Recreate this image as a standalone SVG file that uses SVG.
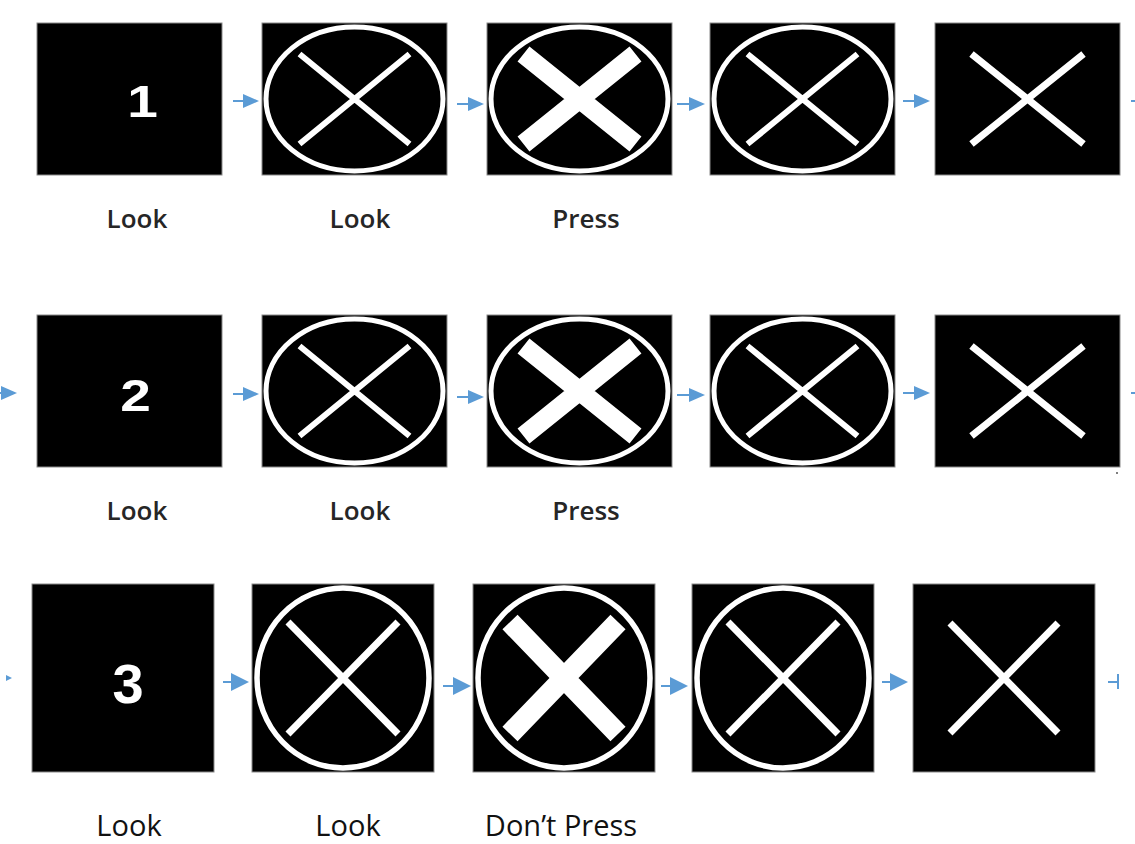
<svg xmlns="http://www.w3.org/2000/svg" width="1135" height="844" viewBox="0 0 1135 844">
  <style>
    .box { fill: #000; stroke: #8a8a8a; stroke-width: 1; }
    .ring { fill: none; stroke: #fff; stroke-width: 5; }
    .ring3 { fill: none; stroke: #fff; stroke-width: 5.5; }
    .thin { stroke: #fff; stroke-width: 6; fill: none; }
    .thin3 { stroke: #fff; stroke-width: 7; fill: none; }
    .thick { stroke: #fff; stroke-width: 19; fill: none; }
    .thick3 { stroke: #fff; stroke-width: 21; fill: none; }
    .num { fill: #fff; font-family: "Liberation Sans", Arial, sans-serif; font-weight: bold; text-anchor: middle; }
    .lbl { fill: #262626; font-family: "Open Sans", "Noto Sans", sans-serif; font-weight: 600; font-size: 26px; text-anchor: middle; }
    .lbl3 { fill: #111; font-family: "Open Sans", "Noto Sans", sans-serif; font-weight: 400; font-size: 29px; text-anchor: middle; }
    .arr { stroke: #5B9BD5; stroke-width: 2; fill: none; }
    .arrfill { fill: #5B9BD5; }
  </style>
  <defs>
    <marker id="ah" viewBox="0 0 16 14" refX="8" refY="7" markerWidth="16" markerHeight="14" orient="auto" markerUnits="userSpaceOnUse">
      <path d="M0,0 L16,7 L0,14 Z" fill="#5B9BD5"/>
    </marker>
    <marker id="ah3" viewBox="0 0 18 18" refX="9" refY="9" markerWidth="18" markerHeight="18" orient="auto" markerUnits="userSpaceOnUse">
      <path d="M0,0 L18,9 L0,18 Z" fill="#5B9BD5"/>
    </marker>
  </defs>
  <rect width="1135" height="844" fill="#fff"/>

  <!-- Row 1 -->
  <g id="r1-n1">
    <rect class="box" x="37" y="23" width="185" height="152"/>
    <text class="num" font-size="44" transform="translate(142.5,117) scale(1.25,1)">1</text>
  </g>
  <g id="r1-n2">
    <rect class="box" x="262" y="23" width="185" height="152"/>
    <ellipse class="ring" cx="354.5" cy="99" rx="88.5" ry="72"/>
    <path class="thin" d="M299.5 54 L409.5 144 M299.5 144 L409.5 54"/>
  </g>
  <g id="r1-n3">
    <rect class="box" x="487" y="23" width="185" height="152"/>
    <ellipse class="ring" cx="579.5" cy="99" rx="88.5" ry="72"/>
    <path class="thick" d="M523.5 54 L635.5 144 M523.5 144 L635.5 54"/>
  </g>
  <g id="r1-n4">
    <rect class="box" x="710" y="23" width="185" height="152"/>
    <ellipse class="ring" cx="802.5" cy="99" rx="88.5" ry="72"/>
    <path class="thin" d="M747.5 54 L857.5 144 M747.5 144 L857.5 54"/>
  </g>
  <g id="r1-n5">
    <rect class="box" x="935" y="23" width="185" height="152"/>
    <path class="thin3" d="M971.5 54 L1083.5 144 M971.5 144 L1083.5 54"/>
  </g>

  <!-- Row 2 -->
  <g id="r2-n1">
    <rect class="box" x="37" y="315" width="185" height="152"/>
    <text class="num" font-size="44" transform="translate(135.5,411) scale(1.25,1)">2</text>
  </g>
  <g id="r2-n2">
    <rect class="box" x="262" y="315" width="185" height="152"/>
    <ellipse class="ring" cx="354.5" cy="391" rx="88.5" ry="72"/>
    <path class="thin" d="M299.5 346 L409.5 436 M299.5 436 L409.5 346"/>
  </g>
  <g id="r2-n3">
    <rect class="box" x="487" y="315" width="185" height="152"/>
    <ellipse class="ring" cx="579.5" cy="391" rx="88.5" ry="72"/>
    <path class="thick" d="M523.5 346 L635.5 436 M523.5 436 L635.5 346"/>
  </g>
  <g id="r2-n4">
    <rect class="box" x="710" y="315" width="185" height="152"/>
    <ellipse class="ring" cx="802.5" cy="391" rx="88.5" ry="72"/>
    <path class="thin" d="M747.5 346 L857.5 436 M747.5 436 L857.5 346"/>
  </g>
  <g id="r2-n5">
    <rect class="box" x="935" y="315" width="185" height="152"/>
    <path class="thin3" d="M971.5 346 L1083.5 436 M971.5 436 L1083.5 346"/>
    <circle cx="1117" cy="473" r="1" fill="#555"/>
  </g>

  <!-- Row 3 -->
  <g id="r3-n1">
    <rect class="box" x="32" y="584" width="182" height="188"/>
    <text class="num" font-size="56" x="128" y="703">3</text>
  </g>
  <g id="r3-n2">
    <rect class="box" x="252" y="584" width="182" height="188"/>
    <ellipse class="ring3" cx="343" cy="678" rx="86" ry="90"/>
    <path class="thin3" d="M288 622 L398 734 M288 734 L398 622"/>
  </g>
  <g id="r3-n3">
    <rect class="box" x="473" y="584" width="182" height="188"/>
    <ellipse class="ring3" cx="564" cy="678" rx="86" ry="90"/>
    <path class="thick3" d="M510 622 L618 734 M510 734 L618 622"/>
  </g>
  <g id="r3-n4">
    <rect class="box" x="692" y="584" width="182" height="188"/>
    <ellipse class="ring3" cx="783" cy="678" rx="86" ry="90"/>
    <path class="thin3" d="M728 622 L838 734 M728 734 L838 622"/>
  </g>
  <g id="r3-n5">
    <rect class="box" x="913" y="584" width="182" height="188"/>
    <path class="thin3" d="M950 623 L1058 733 M950 733 L1058 623"/>
  </g>

  <!-- Labels -->
  <g id="labels">
    <text class="lbl" x="137" y="228">Look</text>
    <text class="lbl" x="360" y="228">Look</text>
    <text class="lbl" x="586" y="228">Press</text>
    <text class="lbl" x="137" y="520">Look</text>
    <text class="lbl" x="360" y="520">Look</text>
    <text class="lbl" x="586" y="520">Press</text>
    <text class="lbl3" x="129" y="836">Look</text>
    <text class="lbl3" x="348" y="836">Look</text>
    <text class="lbl3" x="561" y="836">Don’t Press</text>
  </g>

  <!-- Connectors -->
  <g id="connectors">
    <line class="arr" x1="233" y1="101" x2="251" y2="101" marker-end="url(#ah)"/>
    <line class="arr" x1="457" y1="104" x2="476" y2="104" marker-end="url(#ah)"/>
    <line class="arr" x1="677" y1="104" x2="697" y2="104" marker-end="url(#ah)"/>
    <line class="arr" x1="903" y1="101" x2="922" y2="101" marker-end="url(#ah)"/>
    <line class="arr" x1="1131" y1="101" x2="1135" y2="101"/>

    <line class="arr" x1="-30" y1="393" x2="9" y2="393" marker-end="url(#ah)"/>
    <line class="arr" x1="233" y1="394" x2="251" y2="394" marker-end="url(#ah)"/>
    <line class="arr" x1="457" y1="397" x2="476" y2="397" marker-end="url(#ah)"/>
    <line class="arr" x1="677" y1="395" x2="697" y2="395" marker-end="url(#ah)"/>
    <line class="arr" x1="903" y1="393" x2="922" y2="393" marker-end="url(#ah)"/>
    <line class="arr" x1="1131" y1="393" x2="1135" y2="393"/>

    <polygon class="arrfill" points="6,675 12,678 6,681"/>
    <line class="arr" x1="223" y1="682" x2="240" y2="682" marker-end="url(#ah3)"/>
    <line class="arr" x1="443" y1="686" x2="462" y2="686" marker-end="url(#ah3)"/>
    <line class="arr" x1="661" y1="686" x2="679" y2="686" marker-end="url(#ah3)"/>
    <line class="arr" x1="882" y1="682" x2="899" y2="682" marker-end="url(#ah3)"/>
    <line class="arr" x1="1108" y1="682" x2="1118" y2="682"/>
    <line class="arr" x1="1118" y1="674" x2="1118" y2="689"/>
  </g>
</svg>
